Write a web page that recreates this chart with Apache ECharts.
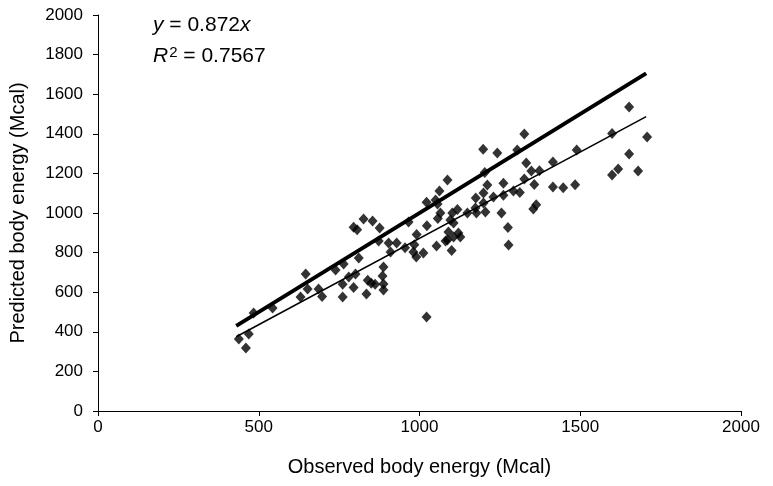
<!DOCTYPE html>
<html>
<head>
<meta charset="utf-8">
<script src="https://cdn.jsdelivr.net/npm/echarts@6/dist/echarts.min.js"></script>
<style>
html,body{margin:0;padding:0;background:#fff;}
#chart{width:773px;height:486px;}
</style>
</head>
<body>
<div id="chart"></div>
<script>
// Observed body energy (Mcal)
var observed = [438,460,469,484,543,630,646,652,686,697,
  739,764,761,761,780,795,801,811,795,806,826,854,876,835,839,850,862,888,888,885,888,873,904,929,910,955,966,
  984,981,990,1012,991,1023,1053,1057,1065,1022,1050,1056,1062,1087,1022,
  1096,1106,1090,1121,1081,1106,1127,1087,1100,1102,1118,1149,1177,1174,1205,1199,1175,1199,1230,1211,1261,1261,1255,1203,1198,1242,
  1275,1277,1292,1312,1304,1326,1332,1326,1348,1373,1357,1354,1363,1415,1415,1447,1484,1489,1599,1599,1618,1652,1652,1680,1708];
// Predicted body energy (Mcal)
var predicted = [364,318,389,495,520,576,692,616,616,578,
  712,742,640,576,677,624,692,773,928,916,970,960,924,591,660,645,640,641,611,682,727,859,848,848,803,825,955,
  840,803,778,798,892,936,833,972,1000,1054,1066,1045,1111,1167,475,
  965,949,904,899,859,879,879,864,810,1000,1018,1000,1000,1025,1005,1051,1076,1101,1081,1141,1150,1090,1000,1205,1322,1303,
  927,838,1111,1104,1318,1399,1253,1172,1212,1214,1144,1020,1042,1258,1131,1128,1143,1318,1402,1192,1222,1535,1298,1212,1384];
// Reference lines: 1:1 line and regression y = 0.872x
var identityLine = [[430,430],[1705,1705]];
var fitLine = [[430,375],[1705,1487]];
var xTicks = [0,500,1000,1500,2000];
var yTicks = [0,200,400,600,800,1000,1200,1400,1600,1800,2000];

var points = observed.map(function(v,i){return [v, predicted[i]];});
var FONT = '"Liberation Sans", Arial, Helvetica, sans-serif';

var chart = echarts.init(document.getElementById('chart'));
chart.setOption({
  animation:false,
  backgroundColor:'#fff',
  grid:{left:97,right:32,top:15,bottom:75},
  xAxis:{
    type:'value',min:xTicks[0],max:xTicks[xTicks.length-1],interval:500,
    name:'Observed body energy (Mcal)',nameLocation:'middle',nameGap:46,
    nameTextStyle:{fontFamily:FONT,fontSize:20,color:'#000'},
    axisLine:{show:true,onZero:false,lineStyle:{color:'#000',width:1}},
    axisTick:{show:true,length:5,lineStyle:{color:'#000'}},
    axisLabel:{fontFamily:FONT,fontSize:17,color:'#000',margin:8,formatter:function(v){return String(v);}},
    splitLine:{show:false}
  },
  yAxis:{
    type:'value',min:yTicks[0],max:yTicks[yTicks.length-1],interval:200,
    name:'Predicted body energy (Mcal)',nameLocation:'middle',nameGap:70,nameRotate:90,
    nameTextStyle:{fontFamily:FONT,fontSize:20,color:'#000'},
    axisLine:{show:true,onZero:false,lineStyle:{color:'#000',width:1}},
    axisTick:{show:true,length:5,lineStyle:{color:'#000'}},
    axisLabel:{fontFamily:FONT,fontSize:17,color:'#000',margin:15,formatter:function(v){return String(v);}},
    splitLine:{show:false}
  },
  graphic:[
    {type:'text',left:153,top:15,style:{
      text:'{i|y} = 0.872{i|x}',
      font:'21px '+FONT,fill:'#000',
      rich:{i:{fontStyle:'italic',fontFamily:FONT,fontSize:21,fill:'#000'}}
    }},
    {type:'text',left:153,top:45,style:{
      text:'{i|R}{s|2} = 0.7567',
      font:'21px '+FONT,fill:'#000',
      rich:{i:{fontStyle:'italic',fontFamily:FONT,fontSize:21,fill:'#000'},
            s:{fontFamily:FONT,fontSize:15,fill:'#000',verticalAlign:'top',padding:[0,0,7,1]}}
    }}
  ],
  series:[
    {type:'line',data:identityLine,symbol:'none',lineStyle:{color:'#000',width:4},z:1},
    {type:'line',data:fitLine,symbol:'none',lineStyle:{color:'#000',width:1.5},z:1},
    {type:'scatter',data:points,symbol:'diamond',symbolSize:[10,11],itemStyle:{color:'#000'},z:3}
  ]
});
</script>
</body>
</html>
